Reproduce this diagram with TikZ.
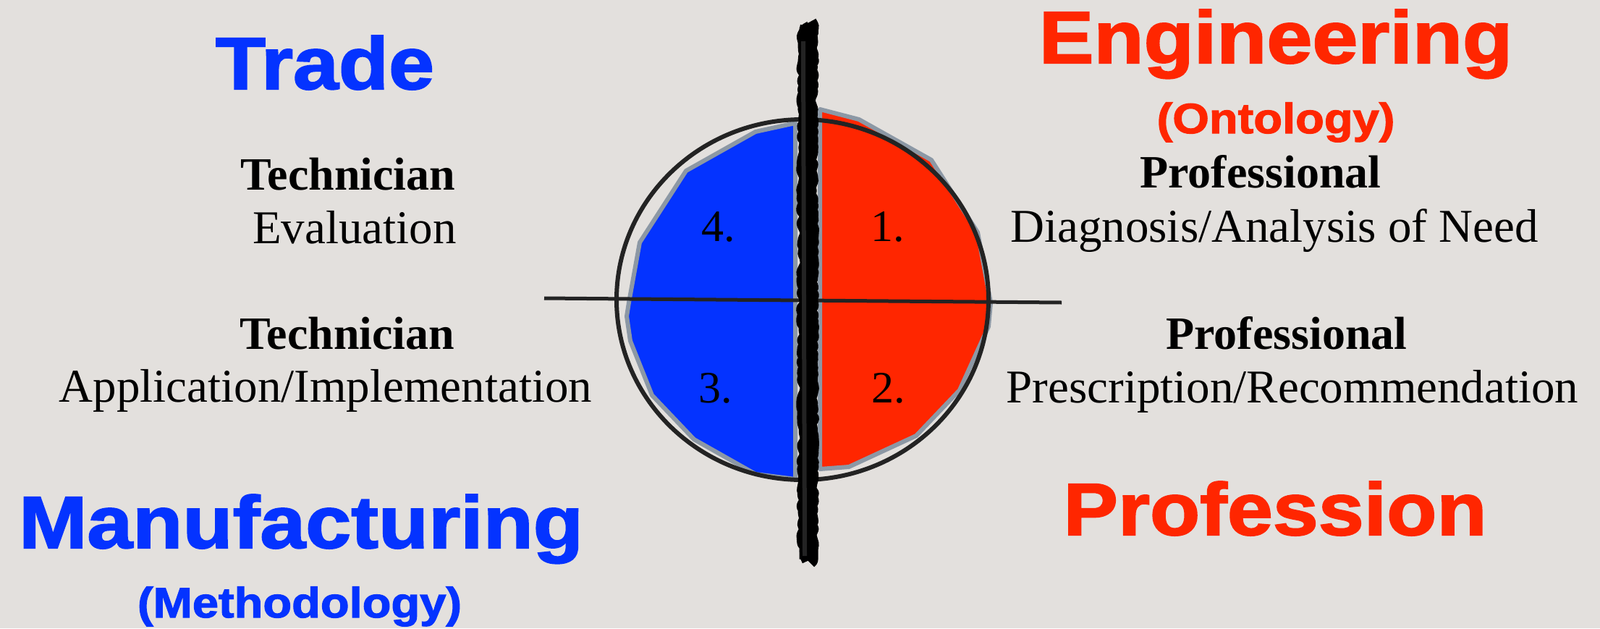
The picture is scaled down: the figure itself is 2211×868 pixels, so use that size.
\documentclass[tikz,border=0pt]{standalone}
\usepackage{fontspec}
\setmainfont{Liberation Serif}
\newfontfamily\headfont[FakeStretch=1.11,FakeBold=2]{Liberation Sans}
\usetikzlibrary{decorations.pathmorphing}
\definecolor{bg}{RGB}{227,224,221}
\definecolor{kblue}{RGB}{4,51,255}
\definecolor{kred}{RGB}{255,38,0}
\definecolor{rim}{RGB}{140,152,165}
\definecolor{ink}{RGB}{35,35,35}
\begin{document}
\begin{tikzpicture}[x=1pt,y=-1pt,
  head/.style={font=\headfont\bfseries\fontsize{102}{110}\selectfont, anchor=base, inner sep=0pt},
  sub/.style={font=\headfont\bfseries\fontsize{58.6}{64}\selectfont, anchor=base, inner sep=0pt},
  role/.style={font=\bfseries\fontsize{64}{70}\selectfont, anchor=base, inner sep=0pt},
  task/.style={font=\fontsize{65}{70}\selectfont, anchor=base, inner sep=0pt},
  num/.style={font=\fontsize{62}{66}\selectfont, anchor=base, inner sep=0pt},
  half/.style={draw=rim, line width=6pt, line join=round},
  scrib/.style={black, line join=round, decorate},
]
\fill[bg] (0,0) rectangle (2211,868);
\useasboundingbox (0,0) rectangle (2211,868);

% quadrant halves
\filldraw[half, fill=kblue] (1099,170) -- (1044,182) -- (948,236) -- (884,335) -- (869,418) -- (866,437) -- (871,471) -- (901,546) -- (959,607) -- (1044,655) -- (1099,662) -- cycle;
\filldraw[half, fill=kred] (1133,151) -- (1187,165) -- (1287,221) -- (1351,321) -- (1369,418) -- (1366,451) -- (1326,539) -- (1266,602) -- (1173,645) -- (1133,648) -- cycle;

% circle outline
\draw[ink, line width=6pt] (1109,414) ellipse [x radius=257, y radius=249];

% horizontal divider
\coordinate (hl) at (752,412);
\coordinate (hr) at (1467,418);
\draw[ink, line width=5pt] (hl) -- (hr);

% scribbled vertical divider
\coordinate (vt) at (1116,32);
\coordinate (vb) at (1116,774);
\draw[scrib, line width=26pt, decoration={random steps, segment length=6pt, amplitude=3pt}] (vt) -- (vb);
\draw[scrib, line width=20pt, decoration={random steps, segment length=4pt, amplitude=4pt}] ([xshift=2pt]vt) -- ([xshift=2pt]vb);
\coordinate (tt) at (1110,57);
\coordinate (tb) at (1112,768);
\draw[ink, line width=6pt] (tt) -- (tb);

% numbers
\node[num] (n4) at (993,333) {4.};
\node[num] (n1) at (1227,333) {1.};
\node[num] (n3) at (989,556) {3.};
\node[num] (n2) at (1228,556) {2.};

% headings
\node[head, text=kblue] (trade) at (449,123) {Trade};
\node[head, text=kred] (eng) at (1763,87) {Engineering};
\node[sub, text=kred] (onto) at (1763,184) {(Ontology)};
\node[head, text=kblue] (manu) at (416,757) {Manufacturing};
\node[sub, text=kblue] (meth) at (414,853) {(Methodology)};
\node[head, text=kred] (prof) at (1762,739) {Profession};

% roles
\node[role] (tech1) at (481,262) {Technician};
\node[task] (eval) at (490,336) {Evaluation};
\node[role] (tech2) at (480,482) {Technician};
\node[task] (appl) at (450,555) {Application/Implementation};
\node[role] (pro1) at (1742,259) {Professional};
\node[task] (diag) at (1761,334) {Diagnosis/Analysis of Need};
\node[role] (pro2) at (1778,482) {Professional};
\node[task] (pres) at (1786,556) {Prescription/Recommendation};
\end{tikzpicture}
\end{document}
